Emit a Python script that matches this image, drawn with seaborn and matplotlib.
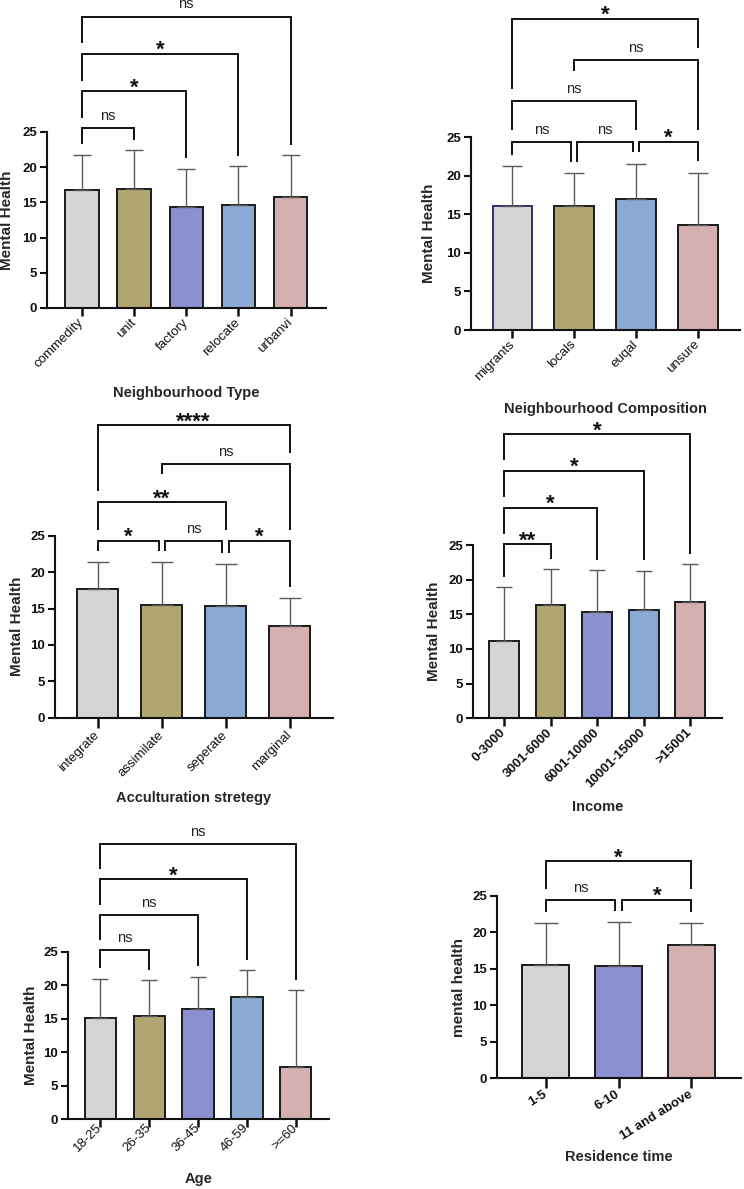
import numpy as np
import pandas as pd
import matplotlib
matplotlib.use("Agg")
import matplotlib.pyplot as plt
import seaborn as sns

# ---- data ----
type_labels = ["commedity", "unit", "factory", "relocate", "urbanvi"]
type_means = [16.8, 16.9, 14.3, 14.6, 15.7]
type_sd = [5.0, 5.5, 5.5, 5.5, 6.0]
type_pairs = [(0, 1, "ns"), (0, 2, "*"), (0, 3, "*"), (0, 4, "ns")]

comp_labels = ["migrants", "locals", "euqal", "unsure"]
comp_means = [16.0, 16.1, 17.0, 13.6]
comp_sd = [5.2, 4.2, 4.5, 6.8]
comp_pairs = [(0, 1, "ns"), (1, 2, "ns"), (2, 3, "*"), (0, 2, "ns"), (1, 3, "ns"), (0, 3, "*")]

acc_labels = ["integrate", "assimilate", "seperate", "marginal"]
acc_means = [17.7, 15.5, 15.4, 12.6]
acc_sd = [3.7, 5.9, 5.7, 3.9]
acc_pairs = [(0, 1, "*"), (1, 2, "ns"), (2, 3, "*"), (0, 2, "**"), (1, 3, "ns"), (0, 3, "****")]

inc_labels = ["0-3000", "3001-6000", "6001-10000", "10001-15000", ">15001"]
inc_means = [11.2, 16.3, 15.4, 15.6, 16.8]
inc_sd = [7.7, 5.2, 6.0, 5.7, 5.4]
inc_pairs = [(0, 1, "**"), (0, 2, "*"), (0, 3, "*"), (0, 4, "*")]

age_labels = ["18-25", "26-35", "36-45", "46-59", ">=60"]
age_means = [15.1, 15.4, 16.5, 18.2, 7.8]
age_sd = [5.9, 5.4, 4.8, 4.0, 11.5]
age_pairs = [(0, 1, "ns"), (0, 2, "ns"), (0, 3, "*"), (0, 4, "ns")]

res_labels = ["1-5", "6-10", "11 and above"]
res_means = [15.6, 15.4, 18.3]
res_sd = [5.7, 6.0, 3.0]
res_pairs = [(0, 1, "ns"), (1, 2, "*"), (0, 2, "*")]

GRAY, OLIVE, PURPLE, BLUE, PINK = "#D4D4D4", "#B1A672", "#8B90CF", "#8AA9D3", "#D5B0B0"

sns.set_style("ticks")
plt.rcParams["font.family"] = ["Liberation Sans", "DejaVu Sans"]

W, H = 744, 1189
fig = plt.figure(figsize=(W / 100, H / 100), dpi=100)
PT = 0.72  # points per pixel at 100 dpi


def levels_for(pairs):
    levels = []
    for k, (i, j, _) in enumerate(pairs):
        lev = 0
        for m in range(k):
            a, b, _ = pairs[m]
            if max(i, a) < min(j, b):
                lev = max(lev, levels[m] + 1)
        levels.append(lev)
    return levels


def draw_brackets(ax, pairs, tops, base, step=5.3, gap=1.5, inset=0.05):
    levels = levels_for(pairs)
    ys = [base + step * lv for lv in levels]
    for k, (i, j, label) in enumerate(pairs):
        y = ys[k]
        xl, xr = float(i), float(j)
        for m, (a, b, _) in enumerate(pairs):
            if m != k and levels[m] == levels[k]:
                if b == i:
                    xl += inset
                if a == j:
                    xr -= inset
        legs = []
        for x in (i, j):
            cands = [tops[x] + gap]
            for m, (a, b, _) in enumerate(pairs):
                if levels[m] < levels[k]:
                    if x in (a, b):
                        cands.append(ys[m] + gap)
                    elif a < x < b:
                        cands.append(y - 1.4)
            legs.append(min(max(cands), y - 0.8))
        ax.plot([xl, xl, xr, xr], [legs[0], y, y, legs[1]], color="#111111", lw=1.4,
                clip_on=False, solid_joinstyle="miter", solid_capstyle="butt")
        if label.startswith("*"):
            ax.annotate(label, xy=((xl + xr) / 2, y), xytext=(0, -1.6),
                        textcoords="offset points", ha="center", va="baseline",
                        fontsize=16, fontweight="bold", color="#111111",
                        annotation_clip=False)
        else:
            ax.annotate(label, xy=((xl + xr) / 2, y), xytext=(0, 5.8),
                        textcoords="offset points", ha="center", va="baseline",
                        fontsize=10.5, color="#222222", annotation_clip=False)


def add_panel(box, labels, means, sd, pairs, colors, xlabel, ylabel, base,
              xlab_y, ylab_x, rot=45, tick_dir="out", tick_pad=3, first_edge=None,
              tick_weight="normal"):
    left, right, y0, y25 = box
    ax = fig.add_axes([left / W, 1 - y0 / H, (right - left) / W, (y0 - y25) / H])
    n = len(labels)
    df = pd.DataFrame({"group": labels, "score": means})
    sns.barplot(data=df, x="group", y="score", hue="group", palette=colors,
                saturation=1, width=0.64, edgecolor="#1a1a1a", linewidth=1.4,
                errorbar=None, legend=False, ax=ax)
    if first_edge is not None:
        ax.patches[0].set_edgecolor(first_edge)

    spacing_px = (right - left) / (n - 1 + 0.67 + 0.68)
    cap = 0.52 * 0.64 * spacing_px / 2 * PT
    ax.errorbar(np.arange(n), means, yerr=[np.zeros(n), sd], fmt="none",
                ecolor="#5a5a5a", elinewidth=1.0, capsize=cap, capthick=1.0, zorder=3)

    ax.set_xlim(-0.67, n - 1 + 0.68)
    ax.set_ylim(0, 25)
    ax.set_yticks([0, 5, 10, 15, 20, 25])
    sns.despine(ax=ax)
    for s in ("left", "bottom"):
        ax.spines[s].set_linewidth(1.5)
        ax.spines[s].set_color("#111111")

    ax.tick_params(axis="y", length=5, width=1.5, labelsize=9.5, pad=2, colors="#111111")
    for t in ax.get_yticklabels():
        t.set_fontweight("bold")
    xlen = 14 if tick_dir == "inout" else 6
    ax.tick_params(axis="x", length=xlen, width=1.8, direction=tick_dir, pad=tick_pad,
                   colors="#111111")
    ax.set_xticks(range(n))
    ax.set_xticklabels(labels, rotation=rot, ha="right", va="center",
                       rotation_mode="anchor", fontsize=9.5, fontweight=tick_weight)

    ax.set_xlabel(xlabel, fontsize=10.5, fontweight="bold")
    ax.set_ylabel(ylabel, fontsize=11, fontweight="bold")
    ax.xaxis.set_label_coords(0.5, (y0 - xlab_y) / (y0 - y25))
    ax.xaxis.label.set_verticalalignment("center")
    ax.yaxis.set_label_coords((ylab_x - left) / (right - left), 0.5)
    ax.yaxis.label.set_verticalalignment("center")
    ax.yaxis.label.set_horizontalalignment("center")

    tops = [m + s for m, s in zip(means, sd)]
    draw_brackets(ax, pairs, tops, base)
    return ax


add_panel((47, 326, 308, 132), type_labels, type_means, type_sd, type_pairs,
          [GRAY, OLIVE, PURPLE, BLUE, PINK], "Neighbourhood Type", "Mental Health",
          25.5, 393, 7.5)
add_panel((471, 740, 330, 137), comp_labels, comp_means, comp_sd, comp_pairs,
          [GRAY, OLIVE, BLUE, PINK], "Neighbourhood Composition", "Mental Health",
          24.4, 409, 429.3, first_edge="#3b2a6e")
add_panel((55, 333, 717.7, 535.7), acc_labels, acc_means, acc_sd, acc_pairs,
          [GRAY, OLIVE, BLUE, PINK], "Acculturation stretegy", "Mental Health",
          24.3, 798, 17.3, tick_dir="inout", tick_pad=4)
add_panel((472.7, 722, 718.3, 545), inc_labels, inc_means, inc_sd, inc_pairs,
          [GRAY, OLIVE, PURPLE, BLUE, PINK], "Income", "Mental Health",
          25.1, 807, 434.3, tick_weight="bold")
add_panel((67.7, 329, 1119.3, 951.7), age_labels, age_means, age_sd, age_pairs,
          [GRAY, OLIVE, PURPLE, BLUE, PINK], "Age", "Mental Health",
          25.2, 1179, 30.7, tick_pad=-1)
add_panel((497, 741, 1078.3, 896), res_labels, res_means, res_sd, res_pairs,
          [GRAY, PURPLE, PINK], "Residence time", "mental health",
          24.5, 1157, 459.3, rot=32, tick_dir="inout", tick_pad=4, tick_weight="bold")

fig.savefig("out.png", dpi=100, facecolor="white")
